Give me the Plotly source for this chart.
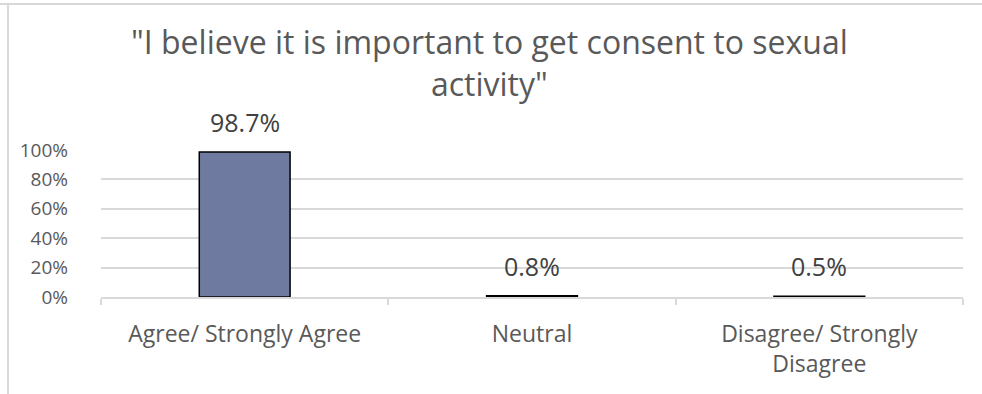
import plotly.graph_objects as go

categories = ["Agree/ Strongly Agree", "Neutral", "Disagree/ Strongly<br>Disagree"]
values = [0.987, 0.008, 0.005]
title_text = '"I believe it is important to get consent to sexual<br>activity"'

W, H = 982, 394
ml, mr, mt, mb = 101, 19, 150, 97
pw, ph = W - ml - mr, H - mt - mb

def px_x(px):
    return (px - ml) / pw

def px_y(py):
    return (H - mb - py) / ph

FONT = "Open Sans"
GRAY = "#595959"
GRID = "#d9d9d9"

fig = go.Figure()
fig.add_trace(go.Bar(
    x=categories, y=values, width=0.316,
    marker=dict(color="#6f7aa0", line=dict(color="#000000", width=1.5)),
    hoverinfo="skip",
))

for c, v in zip(categories, values):
    fig.add_annotation(x=c, y=v, xref="x", yref="y", text=f"{v*100:.1f}%",
                       showarrow=False, yanchor="bottom", yshift=11,
                       font=dict(family=FONT, size=25, color="#404040"))

fig.add_annotation(x=px_x(489), y=px_y(62), xref="paper", yref="paper",
                   xanchor="center", yanchor="middle", text=title_text, showarrow=False,
                   font=dict(family=FONT, size=32, color=GRAY))

fig.add_shape(type="line", xref="paper", yref="paper",
              x0=px_x(0), x1=px_x(W), y0=px_y(4), y1=px_y(4),
              line=dict(color=GRID, width=2))
fig.add_shape(type="line", xref="paper", yref="paper",
              x0=px_x(8), x1=px_x(8), y0=px_y(4), y1=px_y(H),
              line=dict(color=GRID, width=2))

fig.update_layout(
    width=W, height=H,
    margin=dict(l=ml, r=mr, t=mt, b=mb),
    paper_bgcolor="white", plot_bgcolor="white",
    showlegend=False,
    font=dict(family=FONT, color=GRAY),
)
fig.update_xaxes(
    type="category", showgrid=False, showline=True, linecolor=GRID, linewidth=1.5,
    ticks="outside", tickson="boundaries", ticklen=6, tickcolor=GRID, tickwidth=1.5,
    tickfont=dict(family=FONT, size=23, color=GRAY), ticklabelstandoff=16,
)
fig.update_yaxes(
    range=[0, 1], dtick=0.2, tickformat=".0%", showgrid=True, gridcolor=GRID, gridwidth=1.5,
    zeroline=False, showline=False, ticks="",
    tickfont=dict(family=FONT, size=19, color=GRAY), ticklabelstandoff=32,
)

fig.write_html("out.html")
